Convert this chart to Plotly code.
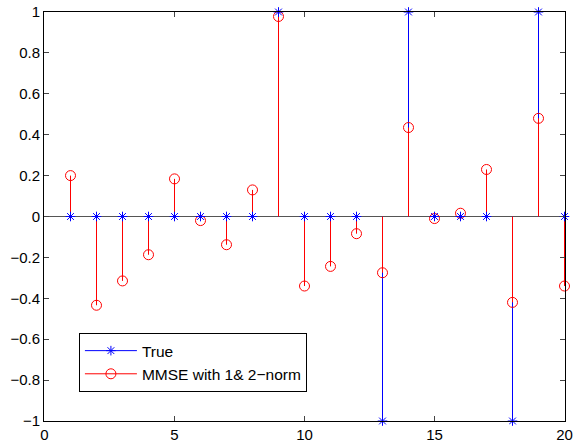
import plotly.graph_objects as go

idx = list(range(1, 21))
true_vals = [0, 0, 0, 0, 0, 0, 0, 0, 1, 0, 0, 0, -1, 1, 0, 0, 0, -1, 1, 0]
mmse_vals = [0.20, -0.434, -0.315, -0.187, 0.184, -0.02, -0.138, 0.13, 0.978, -0.34,
             -0.244, -0.084, -0.275, 0.435, -0.01, 0.016, 0.23, -0.42, 0.48, -0.34]
x_ticks = [0, 5, 10, 15, 20]
y_ticks = [-1, -0.8, -0.6, -0.4, -0.2, 0, 0.2, 0.4, 0.6, 0.8, 1]

def stems(xs, ys):
    sx, sy = [], []
    for a, b in zip(xs, ys):
        sx += [a, a, None]
        sy += [0, b, None]
    return sx, sy

BLUE = "#0000ff"
RED = "#ff0000"

fig = go.Figure()
bx, by = stems(idx, true_vals)
rx, ry = stems(idx, mmse_vals)

fig.add_trace(go.Scatter(x=bx, y=by, mode="lines", line=dict(color=BLUE, width=1),
                         showlegend=False, hoverinfo="skip", cliponaxis=False))
fig.add_trace(go.Scatter(x=rx, y=ry, mode="lines", line=dict(color=RED, width=1),
                         showlegend=False, hoverinfo="skip", cliponaxis=False))
fig.add_trace(go.Scatter(x=idx, y=mmse_vals, mode="markers", cliponaxis=False,
                         marker=dict(symbol="circle-open", size=10, color=RED, line=dict(width=1)),
                         showlegend=False))
fig.add_trace(go.Scatter(x=idx, y=true_vals, mode="markers", cliponaxis=False,
                         marker=dict(symbol="asterisk-open", size=8, color=BLUE, line=dict(width=1, color=BLUE)),
                         showlegend=False))
# legend entries
fig.add_trace(go.Scatter(x=[None], y=[None], mode="lines+markers", name="True",
                         line=dict(color=BLUE, width=1),
                         marker=dict(symbol="asterisk-open", size=8, color=BLUE, line=dict(width=1, color=BLUE))))
fig.add_trace(go.Scatter(x=[None], y=[None], mode="lines+markers", name="MMSE with 1& 2\u2212norm",
                         line=dict(color=RED, width=1),
                         marker=dict(symbol="circle-open", size=10, color=RED, line=dict(width=1))))

PX_PER_UNIT = 26  # integer pixel scale; half-pixel pad keeps 1px stems crisp
half = 0.5 / PX_PER_UNIT
PLOT_W = 20 * PX_PER_UNIT + 1

fig.update_layout(
    width=573, height=448, autosize=False,
    margin=dict(l=44, r=573 - 44 - PLOT_W, t=12, b=27, autoexpand=False),
    paper_bgcolor="white", plot_bgcolor="white",
    font=dict(family="Liberation Sans, Arial, sans-serif", size=15, color="black"),
    legend=dict(x=0.067, y=0.215, xanchor="left", yanchor="top",
                bordercolor="black", borderwidth=1, bgcolor="white",
                font=dict(size=15.5), tracegroupgap=0, itemwidth=52),
    showlegend=True,
)
fig.update_xaxes(range=[-half, 20 + half], tickvals=x_ticks, ticks="inside", ticklen=5,
                 showline=True, linecolor="black", linewidth=1, mirror="ticks",
                 showgrid=False, zeroline=False, automargin=False)
fig.update_yaxes(range=[-1, 1], tickvals=y_ticks, ticks="inside", ticklen=5,
                 showline=True, linecolor="black", linewidth=1, mirror="ticks",
                 showgrid=False, zeroline=True, zerolinecolor="#555555", zerolinewidth=1,
                 automargin=False)

fig.write_html("out.html", config={"displayModeBar": False},
               post_script="document.body.style.margin='0';")
